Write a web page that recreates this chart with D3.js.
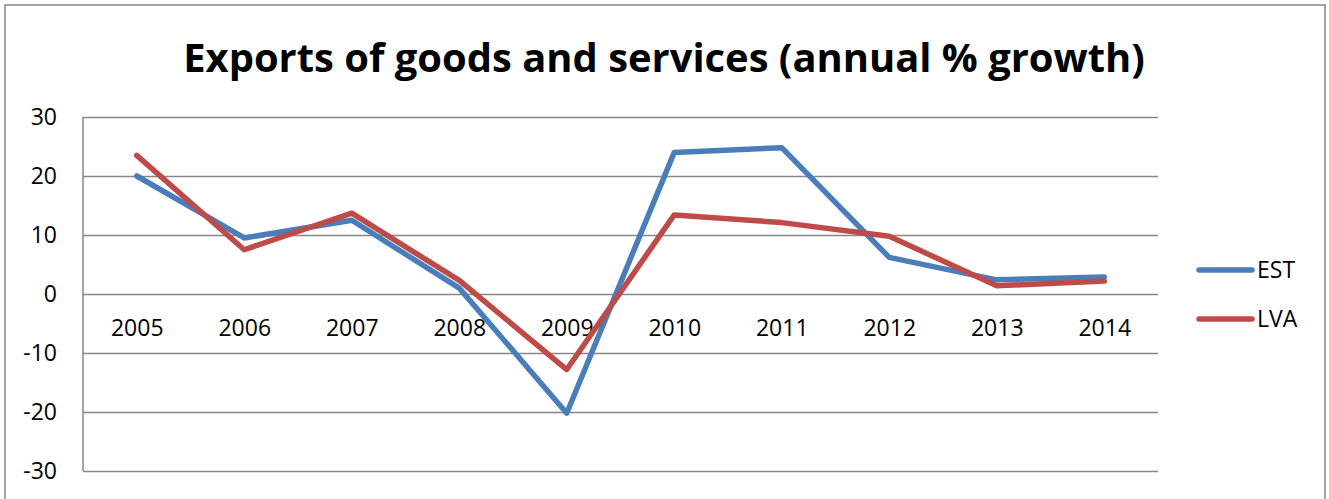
<!DOCTYPE html>
<html><head><meta charset="utf-8">
<script src="https://cdn.jsdelivr.net/npm/d3@7"></script>
<style>html,body{margin:0;padding:0;background:#fff;}svg{display:block;}</style>
</head><body>
<svg id="c" width="1329" height="499"></svg>
<script>
const title = "Exports of goods and services (annual % growth)";
const years = ["2005","2006","2007","2008","2009","2010","2011","2012","2013","2014"];
const est = [20.0, 9.5, 12.5, 1.0, -20.2, 24.0, 24.8, 6.2, 2.4, 2.9];
const lva = [23.5, 7.5, 13.7, 2.3, -12.8, 13.4, 12.1, 9.8, 1.4, 2.2];
const yTicks = [30, 20, 10, 0, -10, -20, -30];
const seriesNames = ["EST", "LVA"];
const seriesColors = ["#4A7EBB", "#BE4B48"];

const font = "'Open Sans', 'Liberation Sans', sans-serif";
const svg = d3.select("#c");
svg.append("rect").attr("x",5).attr("y",5).attr("width",1320).attr("height",520)
  .attr("fill","#fff").attr("stroke","#868686").attr("stroke-width",1.5);

const L = 83, R = 1158, T = 117, B = 471;
const x = d3.scalePoint().domain(years).range([L, R]).padding(0.5);
const y = d3.scaleLinear().domain([-30, 30]).range([B, T]);

// gridlines
const gy = svg.append("g").attr("transform", `translate(${L},0)`)
  .call(d3.axisLeft(y).tickValues(yTicks).tickSize(-(R - L)).tickFormat(d => d).tickPadding(26));
gy.select(".domain").remove();
gy.selectAll(".tick line").attr("stroke","#868686").attr("stroke-width",1.5);
gy.selectAll(".tick text").attr("font-family",font).attr("font-size",23).attr("fill","#000").attr("dy","0.34em");
svg.append("line").attr("x1",L).attr("x2",L).attr("y1",T).attr("y2",B).attr("stroke","#868686").attr("stroke-width",1.5);

// x labels at zero line
const gx = svg.append("g").attr("transform", `translate(0,${y(0)})`)
  .call(d3.axisBottom(x).tickSize(0).tickPadding(26));
gx.select(".domain").remove();
gx.selectAll(".tick text").attr("font-family",font).attr("font-size",23).attr("fill","#000");

const line = d3.line().x((d,i) => x(years[i])).y(d => y(d));
[est, lva].forEach((s, k) => {
  svg.append("path").datum(s).attr("d", line).attr("fill","none")
    .attr("stroke", seriesColors[k]).attr("stroke-width",5.5)
    .attr("stroke-linejoin","round").attr("stroke-linecap","round");
});

// legend
const lg = svg.append("g");
seriesNames.forEach((n, k) => {
  const ly = 270 + k * 49;
  lg.append("line").attr("x1",1199).attr("x2",1252).attr("y1",ly).attr("y2",ly)
    .attr("stroke",seriesColors[k]).attr("stroke-width",5.5).attr("stroke-linecap","round");
  lg.append("text").attr("x",1257).attr("y",ly).attr("dy","0.36em")
    .attr("font-family",font).attr("font-size",23).attr("fill","#000").text(n);
});

// title
const t = svg.append("text").attr("x", (183+1145)/2).attr("y", 72).attr("text-anchor","middle")
  .attr("font-family",font).attr("font-weight","bold").attr("font-size",40).attr("fill","#000").text(title);
const w = t.node().getComputedTextLength();
t.attr("font-size", 40 * 962 / w);
</script>
</body></html>
